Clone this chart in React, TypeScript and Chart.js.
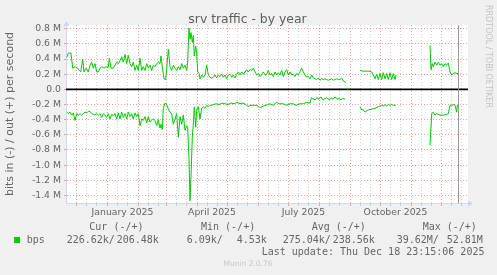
import React, { useEffect, useRef } from 'react';
import { Chart, registerables } from 'chart.js';

Chart.register(...registerables);

// ---------------- data ----------------
const TITLE = 'srv traffic - by year';
const Y_TITLE = 'bits in (-) / out (+) per second';
const START_UTC = Date.UTC(2024, 10, 21); // day 0 of the x axis
const X_MAX_DAYS = 402;
const NOW_DAY = 392.4;
const Y_MIN_M = -1.5;
const Y_MAX_M = 0.85;

// out (+), Mbit/s, null = no data
const outDays = [0.7, 2.3, 5, 6.7, 9, 12.3, 14.7, 16.7, 18, 20, 22.3, 24, 25.7, 27.3, 29, 30.7, 32.3, 34, 35.7, 38, 40, 42.3, 43.3, 45, 47.3, 49, 50.7, 52.3, 54, 55.7, 57.3, 59, 60.7, 62.3, 64, 65.7, 67.3, 69, 70.7, 72.3, 74, 75.7, 77.3, 79, 80.7, 82.3, 84, 85.7, 87.3, 89, 90.7, 92.3, 94, 95, 96.3, 98, 99.7, 100.7, 102.3, 104, 105.7, 107.3, 109, 110.7, 112.3, 114, 115.7, 117.3, 119, 120.7, 121.7, 123, 124, 125, 126.3, 127.3, 128.3, 129.7, 130.7, 131.7, 133, 134, 135.7, 137.3, 139, 140.7, 142.3, 144, 145.7, 147.3, 149, 150.7, 152.3, 154, 155.7, 157.3, 159, 160.7, 162.3, 164, 165.7, 167.3, 169, 170.7, 172.3, 174, 175.7, 177.3, 179, 180.7, 182.3, 184, 185.7, 187.3, 189, 190.7, 192.3, 194, 195.7, 197.3, 199, 200.7, 202.3, 204, 205.7, 207.3, 209, 210.7, 212.3, 214, 215.7, 217.3, 219, 220.7, 222.3, 224, 225.7, 227.3, 229, 230.7, 232.3, 234, 235.7, 237.3, 239, 240.7, 242.3, 244, 245.7, 247.3, 249, 250.7, 252.3, 254, 255.7, 257.3, 259, 260.7, 262.3, 264, 265.7, 267.3, 269, 270.7, 272.3, 274, 275.7, 277.3, 279, 280, 281, 281.7, 282.5, 294, 297.3, 300.7, 304, 305.7, 307.3, 309, 310.7, 312.3, 314, 315.7, 317.3, 319, 320.7, 322.3, 324, 325.7, 327.3, 329, 330, 331, 364, 365, 366.3, 367.3, 369, 370.7, 372.3, 374, 375.7, 377.3, 379, 380.7, 382.3, 384, 385.7, 387.3, 389, 391, 392.3];
const outMbps = [0.42, 0.48, 0.48, 0.28, 0.30, 0.27, 0.23, 0.40, 0.23, 0.28, 0.23, 0.32, 0.36, 0.28, 0.34, 0.23, 0.23, 0.28, 0.30, 0.28, 0.30, 0.29, 0.41, 0.28, 0.28, 0.32, 0.36, 0.34, 0.38, 0.43, 0.36, 0.46, 0.34, 0.45, 0.34, 0.30, 0.36, 0.25, 0.32, 0.25, 0.41, 0.25, 0.30, 0.25, 0.34, 0.28, 0.32, 0.25, 0.32, 0.30, 0.34, 0.36, 0.34, 0.44, 0.30, 0.14, 0.13, 0.28, 0.53, 0.30, 0.25, 0.32, 0.28, 0.25, 0.30, 0.26, 0.34, 0.28, 0.32, 0.25, 0.36, 0.81, 0.66, 0.75, 0.62, 0.71, 0.44, 0.57, 0.48, 0.23, 0.21, 0.14, 0.19, 0.16, 0.19, 0.32, 0.19, 0.16, 0.15, 0.16, 0.19, 0.15, 0.19, 0.17, 0.20, 0.16, 0.19, 0.14, 0.19, 0.20, 0.16, 0.19, 0.15, 0.20, 0.23, 0.19, 0.23, 0.20, 0.23, 0.26, 0.23, 0.26, 0.25, 0.28, 0.23, 0.19, 0.21, 0.17, 0.20, 0.23, 0.19, 0.20, 0.25, 0.19, 0.21, 0.17, 0.23, 0.19, 0.22, 0.19, 0.25, 0.17, 0.23, 0.26, 0.19, 0.23, 0.19, 0.20, 0.17, 0.21, 0.19, 0.23, 0.28, 0.23, 0.19, 0.16, 0.17, 0.14, 0.19, 0.15, 0.14, 0.13, 0.15, 0.12, 0.14, 0.13, 0.14, 0.13, 0.12, 0.13, 0.14, 0.12, 0.13, 0.14, 0.13, 0.13, 0.15, 0.11, 0.10, 0.09, null, 0.01, null, 0.25, 0.24, 0.24, 0.24, 0.23, 0.19, 0.14, 0.20, 0.13, 0.21, 0.13, 0.22, 0.14, 0.21, 0.13, 0.22, 0.13, 0.21, 0.13, 0.19, null, 0.58, 0.26, 0.34, 0.30, 0.36, 0.32, 0.36, 0.32, 0.34, 0.30, 0.34, 0.32, 0.35, 0.23, 0.19, 0.21, 0.22, 0.21, 0.21];

// in (-), Mbit/s, null = no data
const inDays = [0.7, 2.3, 4, 5.7, 7.3, 9, 10.7, 12.3, 14, 15.7, 17.3, 19, 20.7, 22.3, 24, 25.7, 27.3, 29, 30.7, 32.3, 34, 35.7, 37.3, 39, 40.7, 42.3, 44, 45.7, 47.3, 49, 50.7, 52.3, 54, 55.7, 57.3, 59, 60.7, 62.3, 64, 65.7, 67.3, 69, 70.7, 72.3, 74, 75.7, 77.3, 79, 80.7, 82.3, 84, 85.7, 87.3, 89, 90.7, 92.3, 94, 95, 96.3, 97.3, 99, 100.7, 102.3, 104, 105.7, 107.3, 109, 110.7, 112.3, 114, 115.7, 117.3, 119, 120.7, 121.7, 123, 124, 125, 126.3, 127.3, 128.3, 129.7, 130.7, 132.3, 134, 135.7, 137.3, 139, 140.7, 142.3, 144, 145.7, 147.3, 150, 153, 156, 159, 162, 165, 168, 171, 174, 177, 180, 182, 184, 187, 190.7, 194, 197.3, 200, 204, 207, 210.7, 213, 217.3, 220.7, 224, 227.3, 230, 234, 237.3, 240.7, 244, 245.3, 247, 249, 251, 253, 255, 257, 259, 261, 263, 265, 267, 269, 271, 273, 275, 277, 279.3, 280.5, 294, 295.7, 297.3, 299, 302.3, 305.7, 309, 312.3, 315.7, 317.3, 319, 320.7, 322.3, 324, 325.7, 327.3, 330, 331, 364, 365.7, 367.3, 369, 370.7, 374, 377.3, 380.7, 382.3, 384, 385.7, 387.3, 389, 390.7, 391.3, 392.3];
const inMbps = [-0.30, -0.32, -0.30, -0.34, -0.31, -0.41, -0.32, -0.34, -0.32, -0.34, -0.32, -0.30, -0.31, -0.29, -0.29, -0.32, -0.33, -0.34, -0.32, -0.34, -0.32, -0.37, -0.32, -0.34, -0.37, -0.32, -0.39, -0.33, -0.35, -0.32, -0.39, -0.31, -0.39, -0.30, -0.37, -0.32, -0.39, -0.30, -0.36, -0.32, -0.39, -0.31, -0.36, -0.32, -0.48, -0.39, -0.41, -0.36, -0.44, -0.36, -0.43, -0.41, -0.39, -0.41, -0.48, -0.40, -0.51, -0.46, -0.53, -0.25, -0.18, -0.20, -0.26, -0.30, -0.32, -0.46, -0.39, -0.32, -0.63, -0.36, -0.46, -0.34, -0.54, -0.48, -0.50, -0.93, -1.47, -1.15, -0.63, -0.46, -0.23, -0.50, -0.27, -0.23, -0.39, -0.25, -0.23, -0.25, -0.21, -0.23, -0.21, -0.21, -0.20, -0.19, -0.20, -0.18, -0.19, -0.20, -0.18, -0.19, -0.17, -0.19, -0.18, -0.20, -0.23, -0.21, -0.21, -0.21, -0.24, -0.22, -0.21, -0.19, -0.21, -0.17, -0.19, -0.19, -0.21, -0.19, -0.19, -0.21, -0.19, -0.19, -0.17, -0.18, -0.11, -0.12, -0.14, -0.11, -0.13, -0.10, -0.14, -0.12, -0.11, -0.14, -0.11, -0.13, -0.10, -0.13, -0.12, -0.14, -0.12, -0.13, null, -0.23, -0.27, -0.27, -0.30, -0.27, -0.26, -0.25, -0.23, -0.21, -0.22, -0.20, -0.22, -0.20, -0.21, -0.20, -0.21, -0.21, null, -0.74, -0.32, -0.30, -0.34, -0.32, -0.34, -0.34, -0.33, -0.32, -0.21, -0.21, -0.20, -0.21, -0.30, -0.21, -0.22];

const yTickMbps = [-1.4, -1.3, -1.2, -1.1, -1.0, -0.9, -0.8, -0.7, -0.6, -0.5, -0.4, -0.3, -0.2, -0.1, 0.0, 0.1, 0.2, 0.3, 0.4, 0.5, 0.6, 0.7, 0.8];
const gridMonths: [number, number][] = [[2024, 11], [2025, 0], [2025, 1], [2025, 2], [2025, 3], [2025, 4], [2025, 5], [2025, 6], [2025, 7], [2025, 8], [2025, 9], [2025, 10], [2025, 11]];
const minorDaysOfMonth = [11, 21];
const labelMonths: [number, number][] = [[2025, 0], [2025, 3], [2025, 6], [2025, 9]];
const monthLabels = ['January 2025', 'April 2025', 'July 2025', 'October 2025'];

const seriesName = 'bps';
const legendHeads = ['Cur (-/+)', 'Min (-/+)', 'Avg (-/+)', 'Max (-/+)'];
const legendIn = ['226.62k/', '6.09k/', '275.04k/', '39.62M/'];
const legendOut = ['206.48k', '4.53k', '238.56k', '52.81M'];
const lastUpdate = 'Last update: Thu Dec 18 23:15:06 2025';
const footer = 'Munin 2.0.76';
const watermark = 'RRDTOOL / TOBI OETIKER';

// ---------------- styling ----------------
const GREEN = '#00CC00';
const AXIS = '#CFD6F8';
const MAJOR = 'rgba(232,96,96,0.6)';
const MINOR = 'rgba(170,170,170,0.55)';
const FONT_COL = '#666666';
const SANS = 'DejaVu Sans';
const MONO = 'DejaVu Sans Mono';

const dayOf = (y: number, m: number, d: number) => (Date.UTC(y, m, d) - START_UTC) / 86400000;
const daysInMonth = (y: number, m: number) => (Date.UTC(y, m + 1, 1) - Date.UTC(y, m, 1)) / 86400000;

type XT = { value: number; kind: 'major' | 'minor' | 'label'; text?: string };
const xTicks: XT[] = (() => {
  const t: XT[] = [];
  gridMonths.forEach(([y, m]) => {
    t.push({ value: dayOf(y, m, 1), kind: 'major' });
    minorDaysOfMonth.forEach((d) => {
      const v = dayOf(y, m, d);
      if (v < X_MAX_DAYS) t.push({ value: v, kind: 'minor' });
    });
  });
  labelMonths.forEach(([y, m], i) => {
    t.push({ value: dayOf(y, m, 1) + daysInMonth(y, m) / 2, kind: 'label', text: monthLabels[i] });
  });
  return t.sort((a, b) => a.value - b.value);
})();
const findX = (v: number) => xTicks.find((t) => Math.abs(t.value - v) < 1e-6);
const xGridColor = (v: number) => {
  const t = findX(v);
  if (!t || t.kind === 'label') return 'rgba(0,0,0,0)';
  return t.kind === 'major' ? MAJOR : MINOR;
};
const yGridColor = (v: number) => (Math.abs(Math.round(v * 10)) % 2 === 0 ? MAJOR : MINOR);

const isolatedRadius = (ctx: any) => {
  const data = ctx.dataset.data;
  const i = ctx.dataIndex;
  const cur = data[i];
  if (!cur || cur.y == null) return 0;
  const prev = data[i - 1];
  const next = data[i + 1];
  return (!prev || prev.y == null) && (!next || next.y == null) ? 1.2 : 0;
};

const decor = {
  id: 'rrdDecor',
  beforeDraw(chart: any) {
    const { ctx, chartArea: a } = chart;
    ctx.save();
    ctx.fillStyle = '#FFFFFF';
    ctx.fillRect(a.left, a.top, a.right - a.left, a.bottom - a.top);
    ctx.restore();
  },
  beforeDatasetsDraw(chart: any) {
    const { ctx, chartArea: a, scales } = chart;
    const y0 = scales.y.getPixelForValue(0);
    const xn = Math.round(scales.x.getPixelForValue(NOW_DAY)) + 0.5;
    ctx.save();
    ctx.strokeStyle = '#000000';
    ctx.lineWidth = 1.6;
    ctx.beginPath();
    ctx.moveTo(a.left, y0);
    ctx.lineTo(a.right, y0);
    ctx.stroke();
    ctx.strokeStyle = '#9A9A9A';
    ctx.lineWidth = 1;
    ctx.beginPath();
    ctx.moveTo(xn, a.top);
    ctx.lineTo(xn, a.bottom);
    ctx.stroke();
    ctx.restore();
  },
  afterDraw(chart: any) {
    const { ctx, chartArea: a } = chart;
    const lx = Math.round(a.left) + 0.5;
    const by = Math.round(a.bottom) + 0.5;
    ctx.save();
    ctx.strokeStyle = AXIS;
    ctx.fillStyle = AXIS;
    ctx.lineWidth = 1;
    ctx.beginPath();
    ctx.moveTo(lx, a.top);
    ctx.lineTo(lx, a.top - 2);
    ctx.moveTo(a.right, by);
    ctx.lineTo(a.right + 2, by);
    ctx.stroke();
    ctx.beginPath();
    ctx.moveTo(lx, a.top - 4);
    ctx.lineTo(lx - 3, a.top + 1);
    ctx.lineTo(lx + 3, a.top + 1);
    ctx.closePath();
    ctx.fill();
    ctx.beginPath();
    ctx.moveTo(a.right + 5, by);
    ctx.lineTo(a.right, by - 3);
    ctx.lineTo(a.right, by + 3);
    ctx.closePath();
    ctx.fill();
    ctx.restore();
  },
};

const App = () => {
  const ref = useRef<HTMLCanvasElement | null>(null);

  useEffect(() => {
    if (!ref.current) return;
    const toPts = (days: number[], vals: (number | null)[]) => days.map((d, i) => ({ x: d, y: vals[i] }));
    const tickFont = { family: SANS, size: 9.3 };
    const chart = new Chart(ref.current, {
      type: 'line',
      data: {
        datasets: [
          {
            label: 'out',
            data: toPts(outDays, outMbps),
            borderColor: GREEN,
            backgroundColor: GREEN,
            borderWidth: 1,
            pointRadius: isolatedRadius,
            pointStyle: 'rect',
            pointBorderWidth: 0,
            pointHoverRadius: 0,
            tension: 0,
            spanGaps: false,
            fill: false,
          },
          {
            label: 'in',
            data: toPts(inDays, inMbps),
            borderColor: GREEN,
            backgroundColor: GREEN,
            borderWidth: 1,
            pointRadius: 0,
            pointHoverRadius: 0,
            tension: 0,
            spanGaps: false,
            fill: false,
          },
        ],
      },
      options: {
        responsive: false,
        animation: false,
        events: [],
        layout: { padding: { top: 25, right: 29, bottom: 0, left: 0 } },
        plugins: {
          legend: { display: false },
          tooltip: { enabled: false },
          title: { display: false },
        },
        scales: {
          x: {
            type: 'linear',
            position: 'bottom',
            min: 0,
            max: X_MAX_DAYS,
            afterBuildTicks: (s: any) => {
              s.ticks = xTicks.map((t) => ({ value: t.value }));
            },
            afterFit: (s: any) => {
              s.height = 72;
            },
            grid: {
              color: (c: any) => xGridColor(c.tick ? c.tick.value : -1),
              tickColor: (c: any) => xGridColor(c.tick ? c.tick.value : -1),
              tickLength: 3,
              lineWidth: 1,
            },
            border: { color: AXIS, width: 1, dash: [1, 2] },
            ticks: {
              autoSkip: false,
              maxRotation: 0,
              minRotation: 0,
              padding: 1,
              font: tickFont,
              color: FONT_COL,
              callback: (v: any) => {
                const t = findX(Number(v));
                return t && t.kind === 'label' ? t.text : '';
              },
            },
          },
          y: {
            type: 'linear',
            min: Y_MIN_M,
            max: Y_MAX_M,
            afterBuildTicks: (s: any) => {
              s.ticks = yTickMbps.map((v) => ({ value: v }));
            },
            afterFit: (s: any) => {
              s.width = 66;
            },
            grid: {
              color: (c: any) => yGridColor(c.tick ? c.tick.value : 1),
              tickColor: (c: any) => yGridColor(c.tick ? c.tick.value : 1),
              tickLength: 2,
              lineWidth: 1,
            },
            border: { color: AXIS, width: 1, dash: [1, 2] },
            ticks: {
              padding: 3,
              font: tickFont,
              color: FONT_COL,
              callback: (v: any) => {
                const r = Math.round(Number(v) * 10);
                if (r % 2 !== 0) return '';
                if (r === 0) return '0.0';
                return (r / 10).toFixed(1) + ' M';
              },
            },
            title: {
              display: true,
              text: Y_TITLE,
              color: FONT_COL,
              font: { family: SANS, size: 11 },
              padding: { top: 4, bottom: 0 },
            },
          },
        },
      } as any,
      plugins: [decor],
    });
    return () => chart.destroy();
  }, []);

  const headX = [89.3, 201, 311.7, 422.7];
  const inX = [66.7, 186.7, 282.7, 396.7];
  const outX = [116.7, 236.7, 332.7, 446.7];
  const mono: React.CSSProperties = {
    position: 'absolute',
    fontFamily: MONO,
    fontSize: 10,
    lineHeight: '10px',
    color: FONT_COL,
    whiteSpace: 'pre',
    margin: 0,
  };

  return (
    <div style={{ position: 'fixed', left: 0, top: 0, width: 497, height: 275, background: '#F0F0F0', overflow: 'hidden' }}>
      <canvas ref={ref} width={497} height={275} style={{ position: 'absolute', left: 0, top: 0, width: 497, height: 275 }} />
      <div
        style={{
          position: 'absolute',
          left: 0,
          width: 495,
          top: 13.2,
          textAlign: 'center',
          fontFamily: SANS,
          fontSize: 12.4,
          lineHeight: '12.4px',
          color: '#5E5E5E',
          whiteSpace: 'pre',
        }}
      >
        {TITLE}
      </div>
      <div
        style={{
          position: 'absolute',
          left: 484,
          top: 5,
          writingMode: 'vertical-rl',
          fontFamily: SANS,
          fontSize: 8,
          lineHeight: '8px',
          color: '#C4C4C4',
          whiteSpace: 'pre',
        }}
      >
        {watermark}
      </div>
      {legendHeads.map((h, i) => (
        <div key={'h' + i} style={{ ...mono, left: headX[i], top: 221.5 }}>
          {h}
        </div>
      ))}
      <div style={{ position: 'absolute', left: 14, top: 237, width: 6, height: 6, background: GREEN }} />
      <div style={{ ...mono, left: 26.7, top: 234.8 }}>{seriesName}</div>
      {legendIn.map((t, i) => (
        <div key={'i' + i} style={{ ...mono, left: inX[i], top: 234.8 }}>
          {t}
        </div>
      ))}
      {legendOut.map((t, i) => (
        <div key={'o' + i} style={{ ...mono, left: outX[i], top: 234.8 }}>
          {t}
        </div>
      ))}
      <div style={{ ...mono, left: 261.7, top: 246.5 }}>{lastUpdate}</div>
      <div
        style={{
          position: 'absolute',
          left: 0,
          width: 496,
          top: 260.4,
          textAlign: 'center',
          fontFamily: SANS,
          fontSize: 7.5,
          lineHeight: '7.5px',
          color: '#C8C8C8',
          whiteSpace: 'pre',
        }}
      >
        {footer}
      </div>
    </div>
  );
};

export default App;
